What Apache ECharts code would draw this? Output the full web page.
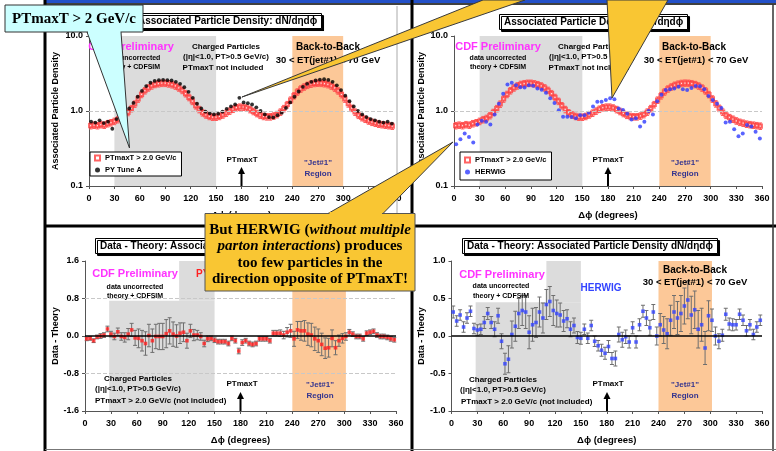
<!DOCTYPE html>
<html>
<head>
<meta charset="utf-8">
<script src="https://cdn.jsdelivr.net/npm/echarts@6/dist/echarts.min.js"></script>
<style>
html,body{margin:0;padding:0;background:#fff;}
#chart{width:776px;height:451px;}
</style>
</head>
<body>
<div id="chart"></div>
<script>
// ---------- data ----------
// fine binning (4 degree bins) used by the CDF data and the Data - Theory panels
const phiFine = [];
for (let i = 0; i < 90; i++) phiFine.push(2 + 4 * i);
// coarse binning (5 degree bins) used by the Monte Carlo curves
const phiCoarse = [];
for (let i = 0; i < 72; i++) phiCoarse.push(2.5 + 5 * i);

const xTicks = [0, 30, 60, 90, 120, 150, 180, 210, 240, 270, 300, 330, 360];

// CDF data, PTmaxT > 2.0 GeV/c (associated particle density)
const cdfDensity = [
  0.64,0.65,0.64,0.66,0.65,0.68,0.70,0.73,0.77,0.80,
  0.87,0.96,1.08,1.24,1.45,1.67,1.87,2.04,2.17,2.27,
  2.32,2.35,2.35,2.31,2.25,2.16,2.04,1.89,1.71,1.52,
  1.35,1.18,1.05,0.95,0.89,0.85,0.83,0.83,0.85,0.89,
  0.94,1.00,1.06,1.11,1.13,1.13,1.10,1.05,0.99,0.93,
  0.88,0.85,0.84,0.84,0.86,0.90,0.97,1.08,1.22,1.40,
  1.60,1.80,1.97,2.10,2.21,2.29,2.34,2.36,2.35,2.32,
  2.26,2.16,2.03,1.86,1.66,1.45,1.25,1.09,0.97,0.88,
  0.82,0.78,0.74,0.71,0.69,0.67,0.66,0.65,0.64,0.63
];
const cdfRelErr = 0.1;

// PYTHIA Tune A prediction
const pyTuneA = [
  0.72,0.70,0.75,0.69,0.72,0.58,0.78,0.82,0.95,1.08,
  1.28,1.55,1.85,2.15,2.38,2.52,2.58,2.60,2.58,2.55,
  2.45,2.30,2.08,1.80,1.50,1.25,1.08,0.98,0.93,0.90,
  0.92,0.98,1.07,1.15,1.22,1.50,1.30,1.27,1.22,1.12,
  1.00,0.90,0.83,0.82,0.88,0.95,1.10,1.30,1.55,1.82,
  2.10,2.30,2.45,2.55,2.62,2.65,2.60,2.45,2.20,1.90,
  1.60,1.35,1.15,1.00,0.90,0.83,0.78,0.75,0.72,0.70,
  0.72,0.68
];

// HERWIG prediction
const herwig = [
  0.36,0.42,0.50,0.45,0.38,0.66,0.74,0.72,0.66,0.90,
  1.25,1.70,2.25,2.38,2.20,2.07,2.06,2.20,2.17,2.00,
  1.92,1.75,1.48,1.28,1.02,0.84,0.84,0.83,0.80,0.88,
  0.88,0.95,1.15,1.33,1.33,1.40,1.48,1.43,1.08,1.03,
  0.92,0.77,0.80,0.62,0.72,1.00,0.90,1.35,1.65,1.90,
  1.95,2.00,2.10,1.95,1.90,2.02,2.15,2.14,1.95,1.58,
  1.40,1.25,1.10,0.70,0.72,0.57,0.46,0.50,0.65,0.62,
  0.53,0.43
];

// Data - PY Tune A
const diffPy = [
  -0.06,-0.05,-0.10,-0.02,0.00,0.02,0.15,0.04,-0.01,0.09,
  -0.01,-0.03,0.04,0.13,-0.04,-0.05,-0.10,-0.16,0.01,-0.10,
  -0.01,-0.01,-0.01,0.05,0.11,0.04,0.00,0.06,0.08,-0.10,
  0.11,0.02,0.02,-0.01,-0.16,-0.06,-0.05,-0.09,-0.12,-0.12,
  -0.12,-0.16,-0.05,-0.10,-0.32,-0.14,-0.10,-0.16,-0.18,-0.16,
  -0.06,-0.06,-0.06,-0.10,0.06,0.06,0.06,0.02,0.08,0.11,
  -0.06,0.13,0.11,0.11,0.04,0.02,-0.06,-0.10,-0.18,-0.26,
  -0.25,-0.05,-0.25,-0.10,-0.05,-0.01,0.08,0.04,-0.01,-0.01,
  -0.06,0.06,0.08,0.10,0.02,-0.01,-0.01,-0.03,-0.06,-0.08
];
const diffPyErr = [
  0.04,0.04,0.04,0.04,0.05,0.05,0.06,0.06,0.07,0.08,
  0.08,0.10,0.12,0.14,0.16,0.20,0.22,0.25,0.24,0.25,
  0.26,0.28,0.28,0.30,0.28,0.26,0.24,0.22,0.20,0.16,
  0.14,0.12,0.10,0.08,0.07,0.06,0.05,0.05,0.05,0.05,
  0.05,0.05,0.05,0.05,0.06,0.06,0.05,0.05,0.05,0.05,
  0.05,0.05,0.05,0.05,0.06,0.06,0.07,0.08,0.10,0.14,
  0.16,0.18,0.20,0.22,0.24,0.25,0.25,0.25,0.24,0.22,
  0.20,0.18,0.15,0.12,0.10,0.08,0.06,0.05,0.05,0.05,
  0.05,0.05,0.05,0.05,0.05,0.05,0.05,0.05,0.05,0.05
];

// Data - HERWIG
const diffHw = [
  0.32,0.20,0.28,0.12,0.24,0.33,0.10,0.08,0.09,0.18,
  0.30,0.18,0.09,0.27,-0.07,-0.37,-0.31,0.02,0.13,0.30,
  0.34,0.32,0.05,0.15,0.18,0.32,0.24,0.42,0.46,0.34,
  0.30,0.28,0.20,0.23,0.09,0.14,-0.02,-0.03,0.09,-0.03,
  0.14,-0.07,-0.13,-0.19,-0.23,-0.14,-0.30,-0.30,0.02,-0.05,
  -0.01,-0.08,0.11,-0.08,0.15,0.33,0.24,0.11,0.32,0.00,
  0.15,0.08,0.03,0.21,0.32,0.24,0.30,0.40,0.48,0.28,
  0.35,0.09,0.15,-0.16,0.27,0.21,0.00,-0.07,0.01,0.29,
  0.16,0.15,0.15,0.29,0.21,0.07,0.15,0.02,0.12,0.21
];
const diffHwErr = [
  0.08,0.07,0.07,0.07,0.07,0.07,0.07,0.07,0.07,0.08,
  0.08,0.08,0.10,0.10,0.10,0.14,0.18,0.18,0.20,0.20,
  0.20,0.22,0.22,0.22,0.20,0.20,0.20,0.20,0.20,0.20,
  0.18,0.16,0.14,0.12,0.10,0.10,0.08,0.08,0.07,0.07,
  0.07,0.07,0.07,0.08,0.08,0.08,0.08,0.10,0.10,0.10,
  0.09,0.08,0.08,0.08,0.08,0.08,0.10,0.10,0.10,0.12,
  0.15,0.18,0.20,0.20,0.22,0.22,0.24,0.24,0.25,0.25,
  0.25,0.25,0.22,0.22,0.20,0.15,0.12,0.10,0.08,0.08,
  0.08,0.08,0.07,0.07,0.07,0.07,0.07,0.07,0.07,0.07
];

// ---------- styling helpers ----------
const SANS = '"Liberation Sans", Arial, sans-serif';
const SERIF = '"Liberation Serif", "Times New Roman", serif';
const GRAY_BAND = '#dcdcdc';
const ORANGE_BAND = '#fcc898';
const MAGENTA = '#ff33ff';
const NAVY = '#34348f';

const pairs = (xs, ys) => xs.map((x, i) => [x, ys[i]]);
const ranges = (xs, ys, err) => xs.map((x, i) => [x, ys[i] - err[i], ys[i] + err[i]]);
const relRanges = (xs, ys, rel) => xs.map((x, i) => [x, ys[i] * (1 - rel), ys[i] * (1 + rel)]);

function errorBars(color, cap) {
  return function (params, api) {
    const x = api.value(0);
    const lo = api.coord([x, api.value(1)]);
    const hi = api.coord([x, api.value(2)]);
    const st = { stroke: color, lineWidth: 1 };
    return {
      type: 'group',
      children: [
        { type: 'line', shape: { x1: lo[0], y1: lo[1], x2: hi[0], y2: hi[1] }, style: st },
        { type: 'line', shape: { x1: lo[0] - cap, y1: lo[1], x2: lo[0] + cap, y2: lo[1] }, style: st },
        { type: 'line', shape: { x1: hi[0] - cap, y1: hi[1], x2: hi[0] + cap, y2: hi[1] }, style: st }
      ]
    };
  };
}

const labelStyle = { color: '#000', fontFamily: SANS, fontSize: 9, fontWeight: 'bold' };

function xAxis(gridIndex, nameGap) {
  return {
    type: 'value', gridIndex, min: xTicks[0], max: xTicks[xTicks.length - 1], interval: 30,
    name: 'Δϕ (degrees)', nameLocation: 'middle', nameGap,
    nameTextStyle: { color: '#000', fontFamily: SANS, fontSize: 9.5, fontWeight: 'bold' },
    axisLine: { onZero: false, lineStyle: { color: '#555', width: 1 } },
    axisTick: { length: 3, lineStyle: { color: '#555' } },
    axisLabel: Object.assign({ margin: 8 }, labelStyle),
    splitLine: { show: false }
  };
}

function yAxis(gridIndex, name, nameGap, extra) {
  return Object.assign({
    gridIndex, name, nameLocation: 'middle', nameGap,
    nameTextStyle: { color: '#000', fontFamily: SANS, fontSize: 9, fontWeight: 'bold' },
    axisLine: { show: true, lineStyle: { color: '#555', width: 1 } },
    axisTick: { show: true, length: 3, lineStyle: { color: '#555' } },
    axisLabel: Object.assign({ margin: 6, formatter: v => Number(v).toFixed(1) }, labelStyle),
    splitLine: { show: false }
  }, extra);
}

// shaded regions + reference lines carried by an empty host series
function host(ax, areas, lines) {
  return {
    type: 'scatter', xAxisIndex: ax, yAxisIndex: ax, data: [], z: 1, silent: true,
    markArea: { silent: true, label: { show: false }, data: areas },
    markLine: { silent: true, symbol: 'none', label: { show: false }, data: lines }
  };
}
const band = (a, b, color, y0, y1) => {
  const p = { xAxis: a, itemStyle: { color, borderWidth: 0 } };
  const q = { xAxis: b };
  if (y0 !== undefined) { p.yAxis = y0; q.yAxis = y1; }
  return [p, q];
};
const dashed = v => ({ yAxis: v, lineStyle: { type: 'dashed', color: '#c8c8c8', width: 1 } });
const solid = v => ({ yAxis: v, lineStyle: { type: 'solid', color: '#000', width: 1.5 } });

// ---------- annotation helpers ----------
function txt(x, y, s, size, color, align, weight) {
  return {
    type: 'text', x, y, z: 12, silent: true,
    style: { text: s, font: (weight || 'bold') + ' ' + size + 'px ' + SANS, fill: color || '#000',
             align: align || 'center', verticalAlign: 'middle' }
  };
}
function arrow(x, yTop, yBot) {
  return [
    { type: 'line', z: 12, silent: true, shape: { x1: x, y1: yTop + 5, x2: x, y2: yBot }, style: { stroke: '#000', lineWidth: 2 } },
    { type: 'polygon', z: 12, silent: true, shape: { points: [[x - 3.5, yTop + 7], [x + 3.5, yTop + 7], [x, yTop]] }, style: { fill: '#000' } }
  ];
}
function boxTitle(text, left, top) {
  return {
    text, left, top, padding: [3, 5],
    backgroundColor: '#fff', borderColor: '#000', borderWidth: 1,
    shadowColor: '#000', shadowOffsetX: 2, shadowOffsetY: 2, shadowBlur: 0.5,
    textStyle: { color: '#000', fontFamily: SANS, fontSize: 10, fontWeight: 'bold' }
  };
}
function legendBox(names, left, top, padding) {
  return {
    data: names, left, top, orient: 'vertical', selectedMode: false,
    itemWidth: 5, itemHeight: 5, itemGap: 2, padding,
    backgroundColor: '#fff', borderColor: '#000', borderWidth: 1,
    textStyle: { color: '#000', fontFamily: SANS, fontSize: 7.5, fontWeight: 'bold', lineHeight: 10 }
  };
}

function panelText(rows) {
  return rows.map(r => txt(r[0], r[1], r[2], r[3], r[4], r[5]));
}

const YELLOW = '#f9c633';
const graphics = [
  // slide frame
  { type: 'rect', z: 9, silent: true, shape: { x: 45, y: 0, width: 731, height: 3 }, style: { fill: '#2350c8' } },
  { type: 'line', z: 9, silent: true, shape: { x1: 45, y1: 4, x2: 776, y2: 4 }, style: { stroke: '#000', lineWidth: 1.5 } },
  { type: 'line', z: 9, silent: true, shape: { x1: 45, y1: 0, x2: 45, y2: 451 }, style: { stroke: '#000', lineWidth: 3 } },
  { type: 'line', z: 9, silent: true, shape: { x1: 412, y1: 0, x2: 412, y2: 451 }, style: { stroke: '#000', lineWidth: 3 } },
  { type: 'line', z: 9, silent: true, shape: { x1: 45, y1: 226, x2: 776, y2: 226 }, style: { stroke: '#000', lineWidth: 3 } },
  { type: 'line', z: 9, silent: true, shape: { x1: 773, y1: 4, x2: 773, y2: 451 }, style: { stroke: '#333', lineWidth: 1.5 } },
  { type: 'line', z: 9, silent: true, shape: { x1: 45, y1: 449.5, x2: 776, y2: 449.5 }, style: { stroke: '#777', lineWidth: 1 } },
  { type: 'line', z: 9, silent: true, shape: { x1: 397, y1: 6, x2: 397, y2: 224 }, style: { stroke: '#aaa', lineWidth: 1 } },
];

// top-left panel text
graphics.push(...panelText([
  [131, 47, 'CDF Preliminary', 11, MAGENTA],
  [132, 58, 'data uncorrected', 7],
  [132, 67, 'theory + CDFSIM', 7],
  [226, 47, 'Charged Particles', 8],
  [226, 57, '(|η|<1.0, PT>0.5 GeV/c)', 8],
  [223, 68, 'PTmaxT not included', 8],
  [328, 47, 'Back-to-Back', 10],
  [328, 60, '30 < ET(jet#1) < 70 GeV', 9.5],
  [242, 160, 'PTmaxT', 8],
  [318, 163, '"Jet#1"', 8, NAVY],
  [318, 174, 'Region', 8, NAVY]
]));
graphics.push(...arrow(241.5, 167, 186));

// top-right panel text
graphics.push(...panelText([
  [498, 47, 'CDF Preliminary', 11, MAGENTA],
  [498, 58, 'data uncorrected', 7],
  [498, 67, 'theory + CDFSIM', 7],
  [592, 47, 'Charged Particles', 8],
  [592, 57, '(|η|<1.0, PT>0.5 GeV/c)', 8],
  [589, 68, 'PTmaxT not included', 8],
  [694, 47, 'Back-to-Back', 10],
  [696, 60, '30 < ET(jet#1) < 70 GeV', 9.5],
  [608, 160, 'PTmaxT', 8],
  [685, 163, '"Jet#1"', 8, NAVY],
  [685, 174, 'Region', 8, NAVY]
]));
graphics.push(...arrow(608, 167, 186));

// bottom-left panel text
graphics.push(...panelText([
  [135, 274, 'CDF Preliminary', 11, MAGENTA],
  [135, 287, 'data uncorrected', 7],
  [135, 296, 'theory + CDFSIM', 7],
  [196, 274, 'PY Tune A', 10, '#ff2020', 'left'],
  [138, 379, 'Charged Particles', 8],
  [138, 389, '(|η|<1.0, PT>0.5 GeV/c)', 8],
  [95, 401, 'PTmaxT > 2.0 GeV/c (not included)', 8, '#000', 'left'],
  [242, 384, 'PTmaxT', 8],
  [320, 385, '"Jet#1"', 8, NAVY],
  [320, 396, 'Region', 8, NAVY]
]));
graphics.push(...arrow(240.5, 392, 411));

// bottom-right panel text
graphics.push(...panelText([
  [502, 275, 'CDF Preliminary', 11, MAGENTA],
  [501, 286, 'data uncorrected', 7],
  [501, 296, 'theory + CDFSIM', 7],
  [601, 288, 'HERWIG', 10, '#3344ff'],
  [695, 270, 'Back-to-Back', 10],
  [695, 282, '30 < ET(jet#1) < 70 GeV', 9.5],
  [503, 380, 'Charged Particles', 8],
  [503, 390, '(|η|<1.0, PT>0.5 GeV/c)', 8],
  [461, 402, 'PTmaxT > 2.0 GeV/c (not included)', 8, '#000', 'left'],
  [608, 384, 'PTmaxT', 8],
  [685, 385, '"Jet#1"', 8, NAVY],
  [685, 396, 'Region', 8, NAVY]
]));
graphics.push(...arrow(607, 392, 411));

// callout: PTmaxT > 2 GeV/c
graphics.push(
  { type: 'polygon', z: 30, silent: true, shape: { points: [[87, 32], [121, 32], [129.5, 148]] }, style: { fill: '#ccffff', stroke: '#333', lineWidth: 1 } },
  { type: 'rect', z: 31, silent: true, shape: { x: 5, y: 5, width: 138, height: 27 }, style: { fill: '#ccffff', stroke: '#333', lineWidth: 1 } },
  { type: 'rect', z: 32, silent: true, shape: { x: 88, y: 30, width: 32.5, height: 3 }, style: { fill: '#ccffff' } },
  { type: 'text', z: 33, silent: true, x: 74, y: 19, style: { text: 'PTmaxT > 2 GeV/c', font: 'bold 15px ' + SERIF, fill: '#000', align: 'center', verticalAlign: 'middle' } }
);

// callout: HERWIG comment, with its pointers
const yStroke = { fill: YELLOW, stroke: '#3a3a3a', lineWidth: 1 };
graphics.push(
  { type: 'polygon', z: 30, silent: true, shape: { points: [[242, 97], [483, 0], [525, 0]] }, style: yStroke },
  { type: 'polygon', z: 30, silent: true, shape: { points: [[607, 0], [668, 0], [612, 98]] }, style: yStroke },
  { type: 'polygon', z: 30, silent: true, shape: { points: [[328, 213.5], [383, 213.5], [453, 142]] }, style: yStroke },
  { type: 'rect', z: 31, silent: true, shape: { x: 205, y: 213.5, width: 210, height: 77.5 }, style: { fill: YELLOW, stroke: '#555', lineWidth: 1 } },
  { type: 'rect', z: 32, silent: true, shape: { x: 329.5, y: 212, width: 52.5, height: 3 }, style: { fill: YELLOW } },
  {
    type: 'text', z: 33, silent: true, x: 310, y: 254.5,
    style: {
      text: 'But HERWIG ({i|without multiple}\n{i|parton interactions}) produces\ntoo few particles in the\ndirection opposite of PTmaxT!',
      font: 'bold 15px ' + SERIF, fill: '#000', align: 'center', verticalAlign: 'middle', lineHeight: 16.3,
      rich: { i: { font: 'italic bold 15px ' + SERIF, fill: '#000', lineHeight: 16.3 } }
    }
  }
);

// ---------- chart ----------
const chart = echarts.init(document.getElementById('chart'), null, { renderer: 'canvas' });

const logExtra = { type: 'log', logBase: 10, min: 0.1, max: 10 };

chart.setOption({
  animation: false,
  backgroundColor: '#fff',
  title: [
    boxTitle('Associated Particle Density: dN/dηdϕ', 133, 13),
    boxTitle('Associated Particle Density: dN/dηdϕ', 499, 14),
    boxTitle('Data - Theory: Associated Particle Density dN/dηdϕ', 95, 238),
    boxTitle('Data - Theory: Associated Particle Density dN/dηdϕ', 462, 238)
  ],
  legend: [
    legendBox(['PTmaxT > 2.0 GeV/c', 'PY Tune A'], 90, 152, [1, 5, 1, 4]),
    legendBox(['PTmaxT > 2.0 GeV/c', 'HERWIG'], 460, 152, [3, 5, 3, 4])
  ],
  grid: [
    { left: 89, top: 36, width: 305, height: 150 },
    { left: 454, top: 36, width: 308, height: 150 },
    { left: 85, top: 261, width: 311, height: 150 },
    { left: 451.5, top: 261, width: 310.5, height: 150 }
  ],
  xAxis: [xAxis(0, 24), xAxis(1, 24), xAxis(2, 24), xAxis(3, 24)],
  yAxis: [
    yAxis(0, 'Associated Particle Density', 29, logExtra),
    yAxis(1, 'Associated Particle Density', 28, logExtra),
    yAxis(2, 'Data - Theory', 25, { type: 'value', min: -1.6, max: 1.6, interval: 0.8 }),
    yAxis(3, 'Data - Theory', 25, { type: 'value', min: -1.0, max: 1.0, interval: 0.5 })
  ],
  series: [
    // top-left: data vs PY Tune A
    host(0, [band(30, 150, GRAY_BAND), band(240, 300, ORANGE_BAND)], [dashed(1)]),
    { type: 'custom', xAxisIndex: 0, yAxisIndex: 0, silent: true, z: 2, renderItem: errorBars('#ff5a5a', 1.8),
      encode: { x: 0, y: [1, 2] }, data: relRanges(phiFine, cdfDensity, cdfRelErr) },
    { type: 'scatter', name: 'PTmaxT > 2.0 GeV/c', xAxisIndex: 0, yAxisIndex: 0, silent: true, z: 3,
      symbol: 'emptyRect', symbolSize: 3.2, itemStyle: { color: '#ff3c3c', borderWidth: 1 }, data: pairs(phiFine, cdfDensity) },
    { type: 'scatter', name: 'PY Tune A', xAxisIndex: 0, yAxisIndex: 0, silent: true, z: 4,
      symbol: 'circle', symbolSize: 3.8, itemStyle: { color: '#000' }, data: pairs(phiCoarse, pyTuneA) },

    // top-right: data vs HERWIG
    host(1, [band(30, 150, GRAY_BAND), band(240, 300, ORANGE_BAND)], [dashed(1)]),
    { type: 'custom', xAxisIndex: 1, yAxisIndex: 1, silent: true, z: 2, renderItem: errorBars('#ff5a5a', 1.8),
      encode: { x: 0, y: [1, 2] }, data: relRanges(phiFine, cdfDensity, cdfRelErr) },
    { type: 'scatter', name: 'PTmaxT > 2.0 GeV/c', xAxisIndex: 1, yAxisIndex: 1, silent: true, z: 3,
      symbol: 'emptyRect', symbolSize: 3.2, itemStyle: { color: '#ff3c3c', borderWidth: 1 }, data: pairs(phiFine, cdfDensity) },
    { type: 'scatter', name: 'HERWIG', xAxisIndex: 1, yAxisIndex: 1, silent: true, z: 4,
      symbol: 'circle', symbolSize: 4, itemStyle: { color: '#2f3cff' }, data: pairs(phiCoarse, herwig) },

    // bottom-left: Data - PY Tune A
    host(2, [band(28, 150, GRAY_BAND, -1.6, 0.75), band(109, 150, GRAY_BAND, 0.75, 1.6), band(240, 302, ORANGE_BAND)],
         [dashed(0.8), dashed(-0.8), solid(0)]),
    { type: 'custom', xAxisIndex: 2, yAxisIndex: 2, silent: true, z: 2, renderItem: errorBars('#6e6e6e', 2),
      encode: { x: 0, y: [1, 2] }, data: ranges(phiFine, diffPy, diffPyErr) },
    { type: 'scatter', name: 'Data - PY Tune A', xAxisIndex: 2, yAxisIndex: 2, silent: true, z: 3,
      symbol: 'rect', symbolSize: 3.6, itemStyle: { color: '#ff1f1f' }, data: pairs(phiFine, diffPy) },

    // bottom-right: Data - HERWIG
    host(3, [band(28, 150, GRAY_BAND, -1.0, 0.45), band(110, 150, GRAY_BAND, 0.45, 1.0), band(240, 302, ORANGE_BAND)],
         [solid(0)]),
    { type: 'custom', xAxisIndex: 3, yAxisIndex: 3, silent: true, z: 2, renderItem: errorBars('#6e6e6e', 2),
      encode: { x: 0, y: [1, 2] }, data: ranges(phiFine, diffHw, diffHwErr) },
    { type: 'scatter', name: 'Data - HERWIG', xAxisIndex: 3, yAxisIndex: 3, silent: true, z: 3,
      symbol: 'rect', symbolSize: 3.6, itemStyle: { color: '#3344ff' }, data: pairs(phiFine, diffHw) }
  ],
  graphic: { elements: graphics }
});
</script>
</body>
</html>
